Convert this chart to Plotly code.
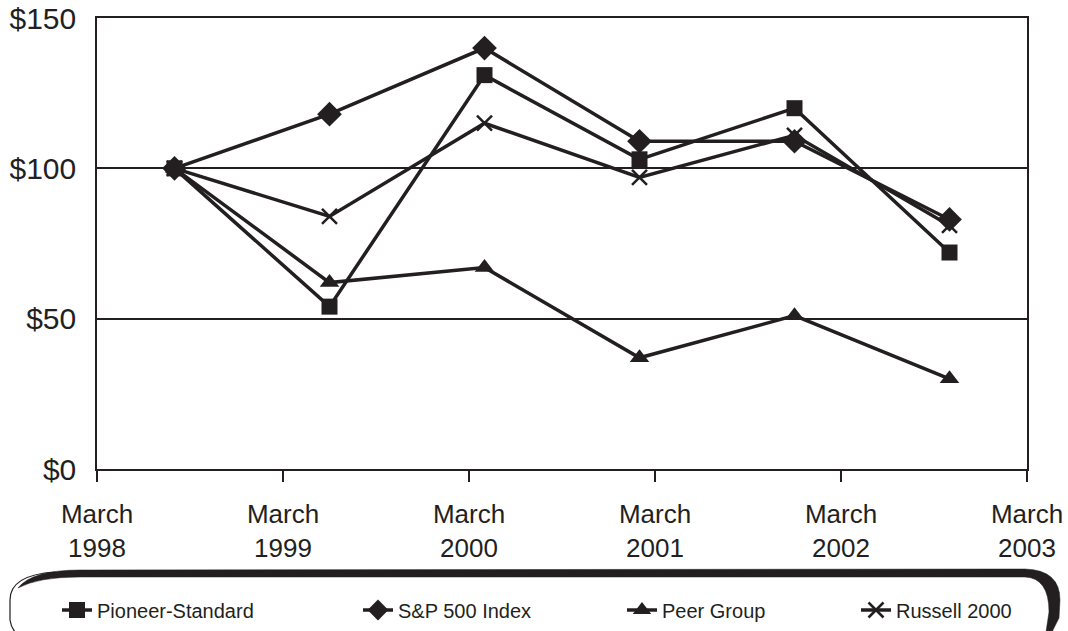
import plotly.graph_objects as go

# ---- data ----
years = ["1998", "1999", "2000", "2001", "2002", "2003"]
points = [0, 1, 2, 3, 4, 5]
pioneer = [100, 54, 131, 103, 120, 72]
sp500 = [100, 118, 140, 109, 109, 83]
peer = [100, 62, 67, 37, 51, 30]
russell = [100, 84, 115, 97, 111, 81]
y_ticks = [0, 50, 100, 150]
y_labels = ["$0", "$50", "$100", "$150"]

INK = "#231f20"
W, H = 1068, 631
L, R, T, B = 97, 41, 18, 162

fig = go.Figure()

def add(name, vals, symbol, size, legend, lw_marker=0):
    fig.add_trace(go.Scatter(
        x=points, y=vals, name=name, mode="lines+markers",
        line=dict(color=INK, width=3.5),
        marker=dict(symbol=symbol, size=size, color=INK,
                    line=dict(color=INK, width=lw_marker)),
        legend=legend, showlegend=True,
    ))

add("Peer Group", peer, "triangle-up", 17, "legend3")
add("Russell 2000", russell, "x-thin", 15, "legend4", 2.5)
add("S&P 500 Index", sp500, "diamond", 19, "legend2")
add("Pioneer-Standard", pioneer, "square", 16, "legend")

# tick positions at year boundaries across the six observation bands
n = len(points)
span = n  # from -0.5 to n-0.5
tickpos = [-0.5 + k * span / (len(years) - 1) for k in range(len(years))]
ticktext = ["March<br>" + y for y in years]

fig.update_xaxes(range=[-0.5, n - 0.5], tickvals=tickpos, ticktext=ticktext,
                 showgrid=False, zeroline=False, showline=True, linecolor=INK,
                 linewidth=1.5, mirror=True, ticks="outside", ticklen=11,
                 tickwidth=1.5, tickcolor=INK, automargin=False,
                 ticklabelstandoff=10,
                 tickfont=dict(family="Liberation Sans, Arial", size=26, color=INK))
fig.update_yaxes(range=[0, 150], tickvals=y_ticks, ticktext=y_labels,
                 showgrid=True, gridcolor=INK, gridwidth=1.5, zeroline=False,
                 showline=True, linecolor=INK, linewidth=1.5, mirror=True,
                 ticks="", ticklabelstandoff=13, automargin=False,
                 tickfont=dict(family="Liberation Sans, Arial", size=30, color=INK))

def px2paper(px, py):
    return ((px - L) / (W - L - R), (H - B - py) / (H - T - B))

def path(pts_cmds):
    out = []
    for c in pts_cmds:
        if isinstance(c, str):
            out.append(c)
        else:
            x, y = px2paper(*c)
            out.append(f"{x:.5f},{y:.5f}")
    return " ".join(out)

thick = path(["M", (18, 588), "Q", (32, 570), (80, 570), "L", (1025, 569),
              "Q", (1060, 570), (1060, 600), "L", (1059, 618), "L", (1052, 632),
              "L", (1046, 632), "L", (1049, 612), "Q", (1049, 578), (1025, 577),
              "L", (80, 577), "Q", (38, 577), (18, 588), "Z"])
thin = path(["M", (55, 572), "Q", (10, 575), (10, 600), "L", (10, 620),
             "Q", (11, 627), (15, 632)])

fig.add_shape(type="path", path=thick, xref="paper", yref="paper",
              fillcolor=INK, line=dict(color=INK, width=0.5), layer="above")
fig.add_shape(type="path", path=thin, xref="paper", yref="paper",
              line=dict(color=INK, width=1.2), layer="above")

leg_font = dict(family="Liberation Sans, Arial", size=20, color=INK)
leg_y = 1 - 610 / H
starts = {"legend": 57, "legend2": 358, "legend3": 622, "legend4": 856}
leg_layout = {}
for k, s in starts.items():
    leg_layout[k] = dict(x=s / W, y=leg_y, xref="container", yref="container",
                         xanchor="left", yanchor="middle", font=leg_font,
                         bgcolor="rgba(0,0,0,0)", borderwidth=0,
                         orientation="h", itemsizing="trace")

fig.update_layout(width=W, height=H, margin=dict(l=L, r=R, t=T, b=B, autoexpand=False),
                  plot_bgcolor="white", paper_bgcolor="white",
                  font=dict(family="Liberation Sans, Arial", color=INK),
                  **leg_layout)

fig.write_html("out.html", config={"displayModeBar": False},
               post_script="document.body.style.margin='0';document.body.style.overflow='hidden';")
